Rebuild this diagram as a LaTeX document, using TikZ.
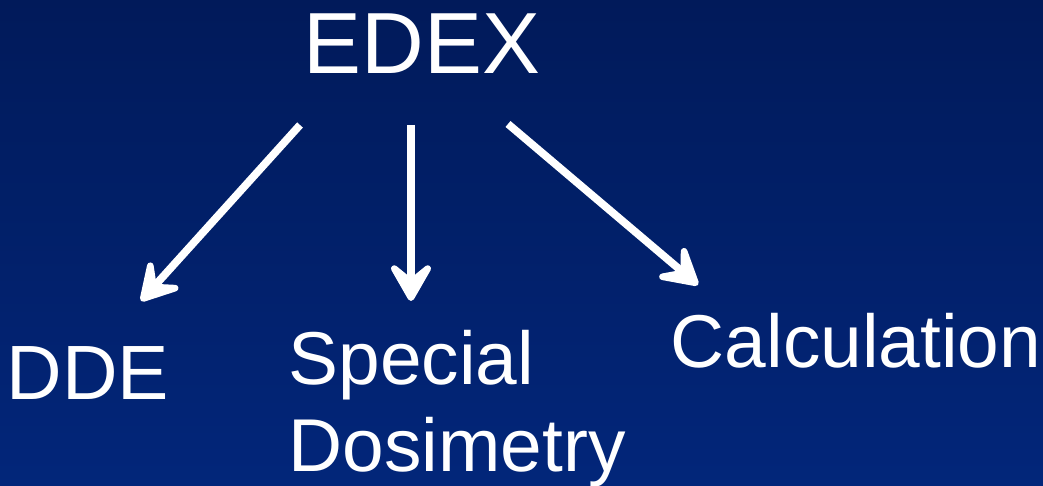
\documentclass[tikz,border=0pt]{standalone}
\usepackage{fontspec}
\setmainfont{Liberation Sans}
\usetikzlibrary{arrows.meta}
\usetikzlibrary{positioning}
\definecolor{bgtop}{RGB}{1,26,90}
\definecolor{bgbottom}{RGB}{2,38,122}
\tikzset{
  title/.style = {anchor=base west, inner sep=0pt, text=white, font=\fontsize{24.7}{29}\selectfont},
  item/.style = {anchor=base west, inner sep=0pt, text=white, font=\fontsize{21.3}{25}\selectfont},
  branch/.style = {white, line width=2.2pt, -{Stealth[length=14pt, width=16pt, inset=6.5pt, round]}}
}

\begin{document}
\begin{tikzpicture}
  \shade[top color=bgtop, bottom color=bgbottom] (0,0) rectangle (10.43,4.86);
  \useasboundingbox (0,0) rectangle (10.43,4.86);
  \node[title] (edex) at (3.03,4.12) {EDEX};
  \node[item, font=\fontsize{21.9}{25}\selectfont] (dde) at (0.06,0.86) {DDE};
  \node[item] (special) at (2.88,1.01) {Special};
  \node[item] (dosim) at ([yshift=-0.87cm]special.base west) {Dosimetry};
  \node[item] (calc) at (6.70,1.18) {Calculation};
  % arrow ends
  \coordinate (s1) at (3.00,3.61);
  \coordinate (s2) at (4.11,3.61);
  \coordinate (s3) at (5.08,3.62);
  \coordinate (t1) at (1.41,1.85);
  \coordinate (t2) at (4.11,1.85);
  \coordinate (t3) at (6.98,2.01);
  \draw[branch] (s1) -- (t1);
  \draw[branch] (s2) -- (t2);
  \draw[branch] (s3) -- (t3);
\end{tikzpicture}
\end{document}
